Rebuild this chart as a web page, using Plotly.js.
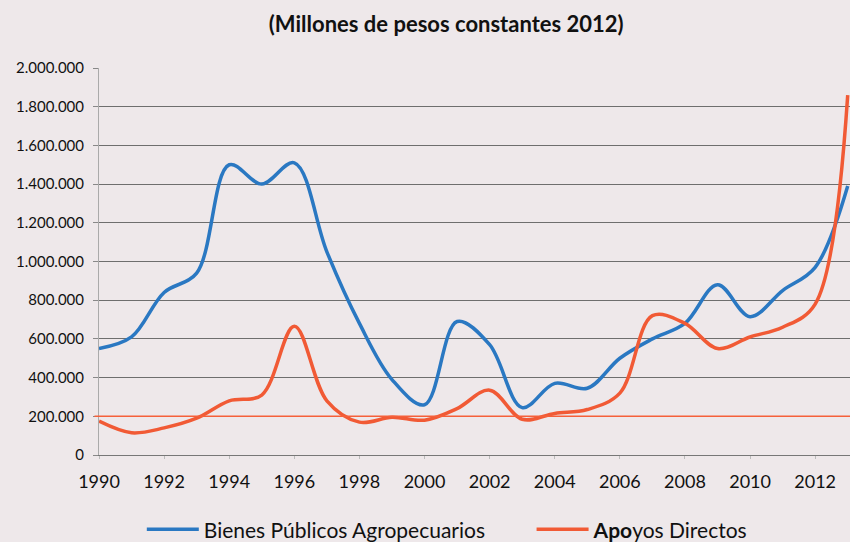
<!DOCTYPE html>
<html>
<head>
<meta charset="utf-8">
<script src="https://cdn.plot.ly/plotly-3.0.1.min.js"></script>
<style>html,body{margin:0;padding:0;background:#eee8ea;}</style>
</head>
<body>
<div id="chart" style="width:850px;height:542px;"></div>
<script>
const years = [1990,1991,1992,1993,1994,1995,1996,1997,1998,1999,2000,2001,2002,2003,2004,2005,2006,2007,2008,2009,2010,2011,2012,2013];
const bienesPublicos = [550000,610000,840000,940000,1500000,1400000,1510000,1050000,680000,390000,260000,690000,570000,245000,370000,345000,500000,600000,680000,880000,715000,850000,970000,1390000];
const apoyosDirectos = [175000,115000,140000,190000,280000,310000,665000,280000,170000,195000,180000,240000,335000,185000,215000,235000,320000,720000,680000,550000,610000,660000,780000,1860000];
const xTickVals = [1990,1992,1994,1996,1998,2000,2002,2004,2006,2008,2010,2012];
const yTickVals = [0,200000,400000,600000,800000,1000000,1200000,1400000,1600000,1800000,2000000];
const yTickText = ['0','200.000','400.000','600.000','800.000','1.000.000','1.200.000','1.400.000','1.600.000','1.800.000','2.000.000'];
const refLine = 200000;
const seriesNames = ['Bienes Públicos Agropecuarios','<b>Apo</b>yos Directos'];

const font = 'Lato, "Open Sans", sans-serif';
const traces = [
  {x: years, y: bienesPublicos, name: seriesNames[0], type: 'scatter', mode: 'lines', legend: 'legend',
   line: {color: '#2a78c2', width: 3.5, shape: 'spline', smoothing: 1}},
  {x: years, y: apoyosDirectos, name: seriesNames[1], type: 'scatter', mode: 'lines', legend: 'legend2',
   line: {color: '#f15a35', width: 3.5, shape: 'spline', smoothing: 1}}
];
const legendBase = {orientation: 'h', xanchor: 'left', yanchor: 'top', itemwidth: 52,
  font: {family: font, size: 21, color: '#111'}, bgcolor: 'rgba(0,0,0,0)'};
const layout = {
  width: 850, height: 542,
  margin: {l: 99, r: 0, t: 68, b: 87, autoexpand: false},
  paper_bgcolor: '#eee8ea', plot_bgcolor: '#eee8ea',
  title: {text: '<b>(Millones de pesos constantes 2012)</b>', x: 0.525, xanchor: 'center', y: 0.956, yanchor: 'middle',
          font: {family: font, size: 22, color: '#111'}},
  xaxis: {range: [1990, 2013.07], tickvals: xTickVals, ticktext: xTickVals.map(String),
          showgrid: false, zeroline: false, showline: true, linecolor: '#777', linewidth: 1,
          ticks: 'outside', ticklen: 3, tickcolor: '#bbb', ticklabelstandoff: 7,
          tickfont: {family: font, size: 18, color: '#111'}, fixedrange: true},
  yaxis: {range: [0, 2000000], tickvals: yTickVals, ticktext: yTickText,
          showgrid: true, gridcolor: '#6e6e6e', gridwidth: 1, zeroline: false,
          showline: true, linecolor: '#aaa', linewidth: 1,
          ticks: 'outside', ticklen: 5, tickcolor: '#888', ticklabelstandoff: 6,
          tickfont: {family: font, size: 15, color: '#111'}, fixedrange: true},
  shapes: [{type: 'line', xref: 'paper', x0: -0.006, x1: 1, yref: 'y', y0: refLine, y1: refLine,
            line: {color: '#f5603a', width: 1.5}, layer: 'above'}],
  showlegend: true,
  legend: Object.assign({}, legendBase, {x: 0.057, y: -0.14}),
  legend2: Object.assign({}, legendBase, {x: 0.576, y: -0.14})
};
Plotly.newPlot('chart', traces, layout, {displayModeBar: false, staticPlot: true});
</script>
</body>
</html>
